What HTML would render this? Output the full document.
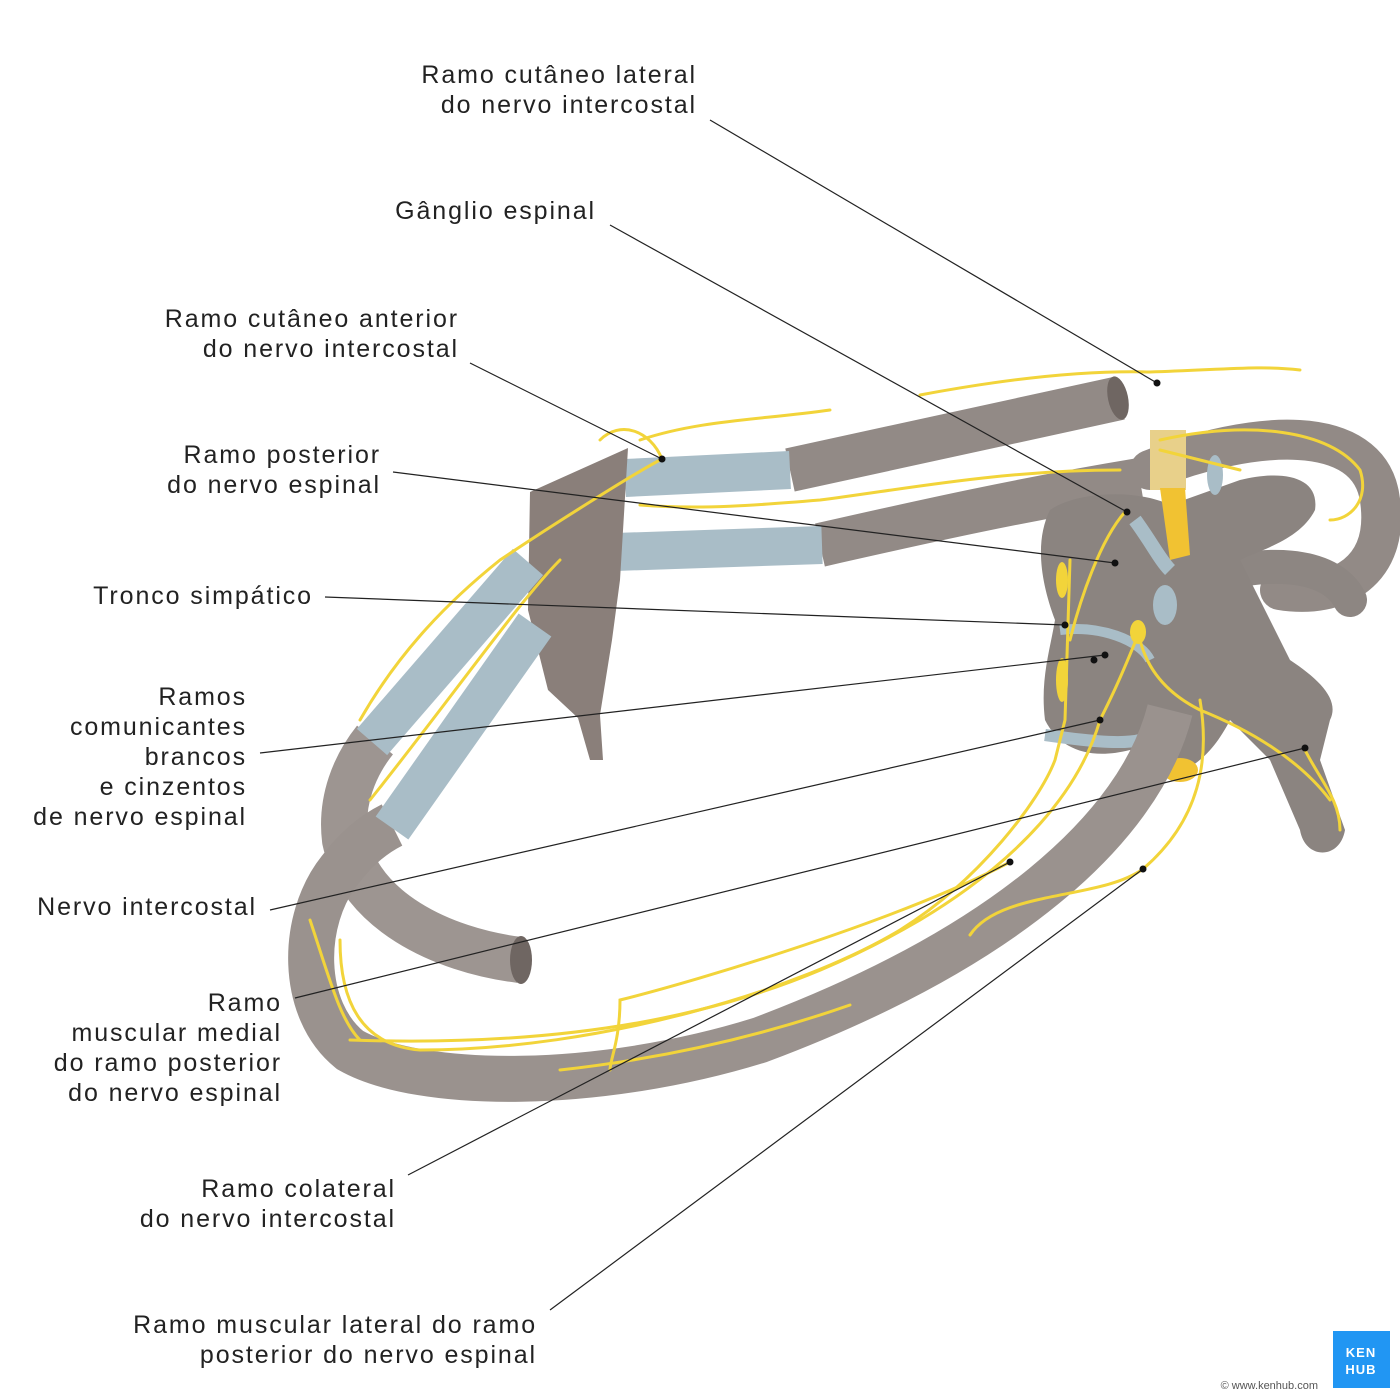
<!DOCTYPE html>
<html><head><meta charset="utf-8">
<style>
html,body{margin:0;padding:0;background:#fff;width:1400px;height:1400px;overflow:hidden;}
svg{display:block;}
text{font-family:"Liberation Sans",sans-serif;font-size:25px;letter-spacing:1.9px;fill:#222;}
</style></head><body>
<svg width="1400" height="1400" viewBox="0 0 1400 1400" xmlns="http://www.w3.org/2000/svg">

<path d="M1150,470 C1250,430 1370,420 1380,500 C1390,570 1340,600 1280,590" fill="none" stroke="#928a86" stroke-width="40" stroke-linecap="round"/>
<path d="M1200,580 C1260,560 1330,560 1350,600" fill="none" stroke="#8d8682" stroke-width="34" stroke-linecap="round"/>

<path d="M790,470 L1120,398" fill="none" stroke="#928a86" stroke-width="44"/>
<ellipse cx="1118" cy="398" rx="10" ry="22" fill="#6f6662" transform="rotate(-12 1118 398)"/>
<path d="M625,478 L790,470" fill="none" stroke="#a9bdc7" stroke-width="38"/>
<path d="M820,545 C930,520 1020,500 1140,480" fill="none" stroke="#928a86" stroke-width="44"/>
<path d="M615,552 L822,545" fill="none" stroke="#a9bdc7" stroke-width="38"/>

<path d="M1050,510 C1080,490 1140,490 1170,505 L1240,480 C1280,470 1320,475 1315,510 C1300,540 1260,550 1240,560 L1290,660 C1320,680 1340,700 1330,720 L1320,760 L1345,830 C1340,860 1305,860 1300,830 L1270,760 L1230,720 C1210,760 1180,780 1160,770 L1130,750 C1090,760 1060,750 1045,720 C1040,680 1050,650 1055,620 C1040,580 1035,540 1050,510 Z" fill="#8b8480"/>
<path d="M1060,630 C1100,625 1140,640 1150,660" fill="none" stroke="#a9bdc7" stroke-width="10"/>
<path d="M1045,735 C1080,740 1120,745 1140,740" fill="none" stroke="#a9bdc7" stroke-width="12"/>
<path d="M1135,520 C1150,540 1160,560 1170,570" fill="none" stroke="#a9bdc7" stroke-width="14"/>
<ellipse cx="1165" cy="605" rx="12" ry="20" fill="#a9bdc7"/>
<ellipse cx="1215" cy="475" rx="8" ry="20" fill="#a9bdc7"/>
<rect x="1150" y="430" width="36" height="60" fill="#e8d08a"/>
<path d="M1160,488 L1185,488 L1190,555 L1170,560 Z" fill="#f1c232"/>
<ellipse cx="1180" cy="770" rx="18" ry="12" fill="#f1c232"/>

<path d="M530,492 L628,448 L620,580 L612,640 L600,715 L603,760 L590,760 L578,718 L548,690 L528,610 Z" fill="#8a7f7a"/>

<path d="M520,960 C440,950 360,910 345,840 C340,800 355,765 375,740" fill="none" stroke="#9d9591" stroke-width="46"/>
<ellipse cx="521" cy="960" rx="11" ry="24" fill="#6f6662"/>
<path d="M372,742 L528,562" fill="none" stroke="#a9bdc7" stroke-width="40"/>
<path d="M1170,710 C1140,830 1000,950 760,1040 C600,1090 420,1090 350,1050 C300,1010 300,920 340,870 C355,850 372,835 392,825" fill="none" stroke="#9a928e" stroke-width="46"/>
<path d="M392,828 L535,625" fill="none" stroke="#a9bdc7" stroke-width="40"/>

<g fill="none" stroke="#f2d43a" stroke-width="3" stroke-linecap="round">
<path d="M920,395 C1000,380 1080,370 1150,372 C1220,370 1260,365 1300,370"/>
<path d="M640,440 C700,420 760,420 830,410"/>
<path d="M662,459 C640,470 560,520 500,560 C450,600 400,650 360,720"/>
<path d="M662,459 C650,430 620,420 600,440"/>
<path d="M1125,512 C1100,540 1080,600 1070,640"/>
<path d="M1070,560 L1065,720 L1055,760 C1040,800 980,880 900,930 C800,990 600,1050 420,1050 C360,1045 340,1000 340,940"/>
<path d="M1100,720 C1080,790 1020,860 920,920 C800,990 640,1050 350,1040"/>
<path d="M1140,640 C1150,680 1180,700 1200,710 C1250,730 1300,760 1330,800"/>
<path d="M1200,700 C1210,760 1200,820 1143,869 C1100,900 1000,890 970,935"/>
<path d="M1140,630 C1120,680 1110,700 1100,720"/>
<path d="M1010,862 C900,920 700,980 620,1000 C620,1040 610,1060 610,1070"/>
<path d="M850,1005 C750,1040 650,1060 560,1070"/>
<path d="M1160,440 C1250,420 1330,430 1360,470 C1370,500 1350,520 1330,520"/>
<path d="M1120,470 C1000,470 900,490 820,500 C760,505 700,510 640,505"/>
<path d="M1160,450 L1240,470"/>
<path d="M1305,750 C1320,780 1340,800 1340,830"/>
<path d="M560,560 C520,600 450,700 370,800"/>
<path d="M310,920 C330,980 340,1020 360,1040"/>
</g>
<ellipse cx="1062" cy="580" rx="6" ry="18" fill="#f2d43a"/>
<ellipse cx="1062" cy="680" rx="6" ry="22" fill="#f2d43a"/>
<ellipse cx="1138" cy="632" rx="8" ry="12" fill="#f2d43a"/>

<g stroke="#222" stroke-width="1.2" fill="none">
<line x1="710" y1="120" x2="1157" y2="383"/>
<line x1="610" y1="225" x2="1127" y2="512"/>
<line x1="470" y1="363" x2="662" y2="459"/>
<line x1="393" y1="472" x2="1115" y2="563"/>
<line x1="325" y1="597" x2="1065" y2="625"/>
<line x1="260" y1="753" x2="1105" y2="655"/>
<line x1="270" y1="910" x2="1100" y2="720"/>
<line x1="295" y1="998" x2="1305" y2="748"/>
<line x1="408" y1="1175" x2="1010" y2="862"/>
<line x1="550" y1="1310" x2="1143" y2="869"/>
</g>
<g fill="#111">
<circle cx="1157" cy="383" r="3.5"/><circle cx="1127" cy="512" r="3.5"/>
<circle cx="662" cy="459" r="3.5"/><circle cx="1115" cy="563" r="3.5"/>
<circle cx="1065" cy="625" r="3.5"/><circle cx="1105" cy="655" r="3.5"/>
<circle cx="1094" cy="660" r="3.5"/><circle cx="1100" cy="720" r="3.5"/>
<circle cx="1305" cy="748" r="3.5"/><circle cx="1010" cy="862" r="3.5"/>
<circle cx="1143" cy="869" r="3.5"/>
</g>

<g text-anchor="end">
<text x="697" y="83">Ramo cutâneo lateral</text>
<text x="697" y="113">do nervo intercostal</text>
<text x="596" y="219">Gânglio espinal</text>
<text x="459" y="327">Ramo cutâneo anterior</text>
<text x="459" y="357">do nervo intercostal</text>
<text x="381" y="463">Ramo posterior</text>
<text x="381" y="493">do nervo espinal</text>
<text x="313" y="604">Tronco simpático</text>
<text x="247" y="705">Ramos</text>
<text x="247" y="735">comunicantes</text>
<text x="247" y="765">brancos</text>
<text x="247" y="795">e cinzentos</text>
<text x="247" y="825">de nervo espinal</text>
<text x="257" y="915">Nervo intercostal</text>
<text x="282" y="1011">Ramo</text>
<text x="282" y="1041">muscular medial</text>
<text x="282" y="1071">do ramo posterior</text>
<text x="282" y="1101">do nervo espinal</text>
<text x="396" y="1197">Ramo colateral</text>
<text x="396" y="1227">do nervo intercostal</text>
<text x="537" y="1333">Ramo muscular lateral do ramo</text>
<text x="537" y="1363">posterior do nervo espinal</text>
</g>

<rect x="1333" y="1331" width="57" height="57" fill="#2196f3"/>
<text x="1361" y="1357" text-anchor="middle" style="font-size:13px;letter-spacing:1px;fill:#fff;font-weight:bold;">KEN</text>
<text x="1361" y="1374" text-anchor="middle" style="font-size:13px;letter-spacing:1px;fill:#fff;font-weight:bold;">HUB</text>
<text x="1318" y="1389" text-anchor="end" style="font-size:11px;letter-spacing:0;fill:#555;">© www.kenhub.com</text>
</svg>
</body></html>
